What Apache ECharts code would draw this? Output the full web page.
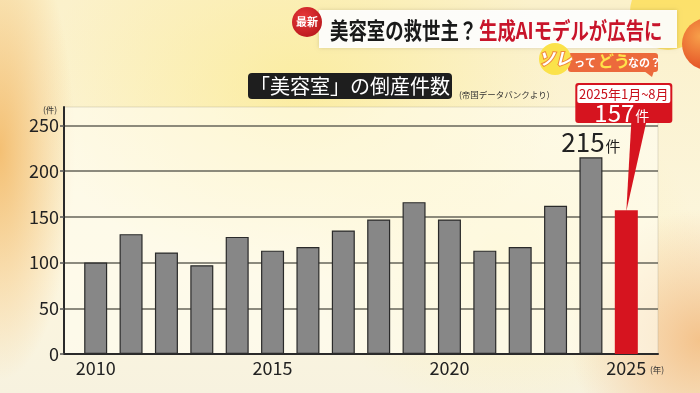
<!DOCTYPE html>
<html><head><meta charset="utf-8">
<script src="https://cdn.jsdelivr.net/npm/echarts@6/dist/echarts.min.js"></script>
<style>
html,body{margin:0;padding:0;}
body{width:700px;height:393px;overflow:hidden;
background:
 radial-gradient(circle at 700px 340px, rgba(244,192,135,0.95) 0, rgba(244,192,135,0) 130px),
 radial-gradient(ellipse 75px 230px at 0px 150px, rgba(243,186,105,0.9) 0, rgba(243,186,105,0) 100%),
 radial-gradient(ellipse 260px 190px at 300px 90px, rgba(251,234,140,0.7), rgba(251,234,140,0) 100%),
 radial-gradient(ellipse 200px 160px at 500px 250px, rgba(252,240,170,0.6), rgba(252,240,170,0) 100%),
 linear-gradient(180deg, #fbf1cb 0%, #fcf6df 70%, #f7f2df 100%);}
#c{width:700px;height:393px;}
</style></head>
<body><div id="c"></div>
<script>
var years = ['2010','2011','2012','2013','2014','2015','2016','2017','2018','2019','2020','2021','2022','2023','2024','2025'];
var values = [100,131,111,97,128,113,117,135,147,166,147,113,117,162,215,157];
var yTicks = [0,50,100,150,200,250];

var JP = '"Noto Sans CJK JP","Noto Sans",sans-serif';
var chart = echarts.init(document.getElementById('c'), null, {renderer:'canvas'});

var barData = values.map(function(v,i){
  var item = {value:v};
  if (i === values.length-1) {
    item.itemStyle = {color:'#d6141f', borderColor:'#c8101b', borderWidth:0};
  }
  if (i === 14) {
    item.label = {show:true, position:'top', distance:2,
      formatter:'{n|'+v+'}{u|件}',
      rich:{n:{fontSize:26,color:'#222',fontFamily:JP,lineHeight:26},
            u:{fontSize:15,color:'#222',fontFamily:JP,padding:[7,0,0,1]}}};
  }
  return item;
});

var option = {
  animation:false,
  grid:[
    {left:64,right:42,top:107,bottom:39,show:true,backgroundColor:'rgba(255,254,242,0.6)',borderWidth:1,borderColor:'rgba(170,160,140,0.35)'},
    {left:78,right:56,top:107,bottom:39}
  ],
  xAxis:[
    {type:'value',gridIndex:0,min:0,max:1,
      axisLine:{show:true,lineStyle:{color:'#2a2a2a',width:2}},
      axisTick:{show:false},axisLabel:{show:false},splitLine:{show:false}},
    {type:'category',gridIndex:1,data:years,
      axisLine:{show:false},axisTick:{show:false},
      axisLabel:{interval:4,fontSize:18,color:'#222',fontFamily:JP,margin:5}}
  ],
  yAxis:[
    {type:'value',gridIndex:0,min:0,max:270,interval:50,
      axisLine:{show:true,lineStyle:{color:'#2a2a2a',width:2}},
      axisTick:{show:true,length:4,lineStyle:{color:'#555',width:1.5}},
      axisLabel:{fontSize:18,color:'#222',fontFamily:JP,margin:5,showMaxLabel:false,
        formatter:function(v){return yTicks.indexOf(v)>=0?String(v):'';}},
      splitLine:{show:true,showMaxLine:false,lineStyle:{color:'#66645a',width:1.5}}},
    {type:'value',gridIndex:1,min:0,max:270,show:false}
  ],
  series:[{
    type:'bar',xAxisIndex:1,yAxisIndex:1,barWidth:23,
    itemStyle:{color:'#878787',borderColor:'#2a2a2a',borderWidth:1.2},
    data:barData
  }]
};
chart.setOption(option);

var p = chart.convertToPixel({xAxisIndex:1,yAxisIndex:1},[15, values[15]]);
var cx = p[0], ty = p[1];
var bx = cx-51, bw = 97;

chart.setOption({graphic:[
  // top-right decorations
  {type:'circle',shape:{cx:668,cy:12,r:38},style:{fill:'rgba(252,222,90,0.85)'},z:1},
  {type:'circle',shape:{cx:708,cy:44,r:26},style:{fill:new echarts.graphic.RadialGradient(0.35,0.35,0.8,[{offset:0,color:'#f7a04a'},{offset:1,color:'#e0401e'}])},z:2},
  // title band
  {type:'rect',shape:{x:319,y:10,width:358,height:38},style:{fill:'rgba(255,255,255,0.93)',shadowBlur:4,shadowColor:'rgba(0,0,0,0.15)'},z:3},
  {type:'circle',shape:{cx:307,cy:22,r:15},style:{fill:new echarts.graphic.RadialGradient(0.4,0.35,0.8,[{offset:0,color:'#e8393a'},{offset:1,color:'#b4141a'}])},z:4},
  {type:'text',x:307,y:22,style:{text:'最新',fill:'#fff',font:'bold 11px '+JP,align:'center',verticalAlign:'middle'},z:5},
  {type:'text',x:330,y:30,scaleX:0.8,style:{text:'美容室の救世主？',fill:'#1a1a1a',font:'bold 23px '+JP,align:'left',verticalAlign:'middle'},z:5},
  {type:'text',x:479,y:30,scaleX:0.8,style:{text:'生成AIモデルが広告に',fill:'#c8142a',font:'bold 23px '+JP,align:'left',verticalAlign:'middle'},z:5},
  // badge
  {type:'rect',shape:{x:568,y:53,width:90,height:19,r:3},style:{fill:'#ec6a3c'},z:3},
  {type:'polygon',shape:{points:[[644,71],[654,71],[652,77]]},style:{fill:'#ec6a3c'},z:3},
  {type:'circle',shape:{cx:555,cy:59,r:16},style:{fill:'#fbe24a'},z:4},
  {type:'text',x:555,y:59,style:{text:'ソレ',fill:'#fff',stroke:'#f08a3a',lineWidth:2,font:'italic bold 17px '+JP,align:'center',verticalAlign:'middle'},z:5},
  {type:'text',x:574,y:63,style:{text:'って',fill:'#fff',font:'bold 11px '+JP,align:'left',verticalAlign:'middle'},z:5},
  {type:'text',x:598,y:61,style:{text:'どう',fill:'#ffe24a',font:'bold 16px '+JP,align:'left',verticalAlign:'middle'},z:5},
  {type:'text',x:628,y:63,style:{text:'なの？',fill:'#fff',font:'bold 11px '+JP,align:'left',verticalAlign:'middle'},z:5},
  // chart title
  {type:'rect',shape:{x:248,y:73,width:204,height:26,r:4},style:{fill:'#1e1e1e'},z:3},
  {type:'text',x:350,y:86,style:{text:'「美容室」の倒産件数',fill:'#fff',font:'20px '+JP,align:'center',verticalAlign:'middle'},z:4},
  {type:'text',x:459,y:95,style:{text:'(帝国データバンクより)',fill:'#333',font:'8.5px '+JP,align:'left',verticalAlign:'middle'},z:4},
  {type:'text',x:50,y:110,style:{text:'(件)',fill:'#333',font:'8.5px '+JP,align:'center',verticalAlign:'middle'},z:4},
  {type:'text',x:650,y:370,style:{text:'(年)',fill:'#333',font:'8.5px '+JP,align:'left',verticalAlign:'middle'},z:4},
  // callout
  {type:'polygon',shape:{points:[[cx+5,122],[cx+20,122],[cx,ty+1]]},style:{fill:'#d6141f'},z:6},
  {type:'rect',shape:{x:bx,y:83,width:bw,height:40,r:3},style:{fill:'#d6141f'},z:6},
  {type:'rect',shape:{x:bx+2,y:85,width:bw-4,height:18,r:2},style:{fill:'#fff'},z:7},
  {type:'text',x:bx+bw/2,y:94.5,style:{text:'2025年1月~8月',fill:'#c8101b',font:'13px '+JP,align:'center',verticalAlign:'middle'},z:8},
  {type:'text',x:bx+bw/2-2,y:113,style:{text:'{n|157}{u|件}',align:'center',verticalAlign:'middle',
    rich:{n:{fontSize:24,fill:'#fff',fontFamily:JP,lineHeight:24},u:{fontSize:14,fill:'#fff',fontFamily:JP,padding:[6,0,0,1]}}},z:8}
]});
</script></body></html>
